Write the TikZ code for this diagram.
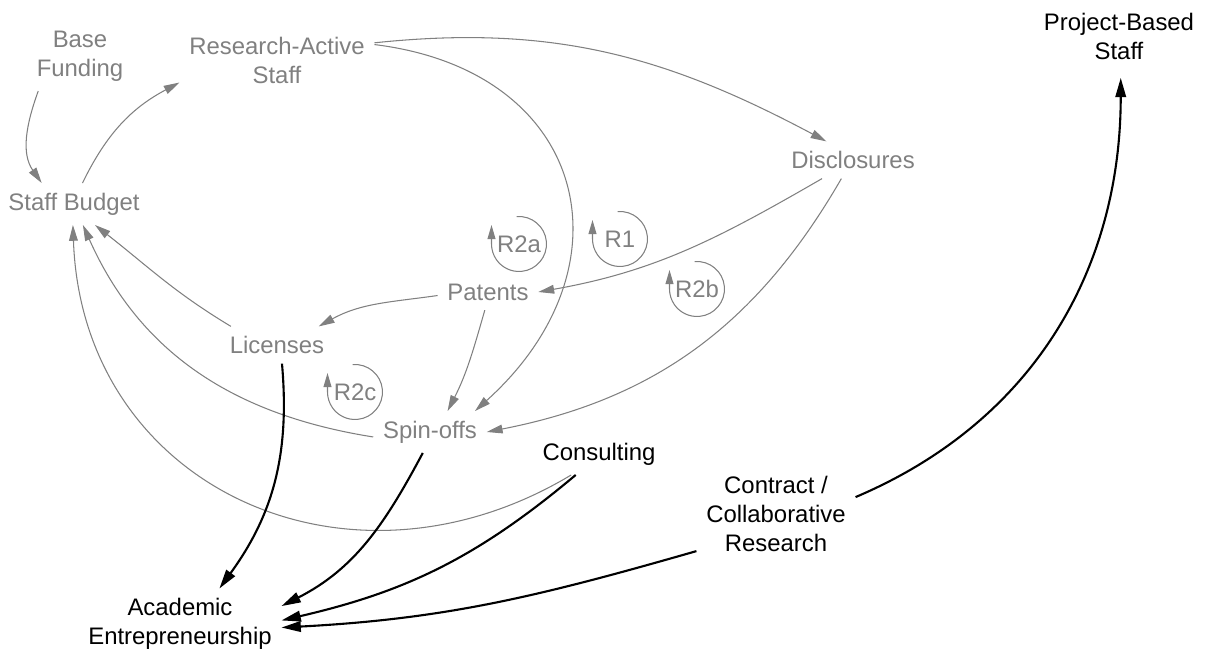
\documentclass[tikz,border=0pt]{standalone}
\usepackage{fontspec}
\setmainfont{Liberation Sans}
\usetikzlibrary{arrows.meta}
\definecolor{loopgrey}{RGB}{128,128,128}
\tikzset{
  black var/.style={
    align=center,
    inner sep=3pt,
    outer sep=2.6pt,
    font=\fontsize{13.6}{16.5}\selectfont,
  },
  grey var/.style={
    black var,
    text=loopgrey,
  },
  grey link/.style={
    draw=loopgrey,
    line width=0.6pt,
    -{Triangle[length=9pt,width=5pt]},
  },
  black link/.style={
    draw=black,
    line width=1.2pt,
    -{Triangle[length=11pt,width=6pt]},
  },
  loop arrow/.style={
    draw=loopgrey,
    line width=0.6pt,
    -{Triangle[length=8pt,width=4.5pt]},
  }
}

\begin{document}
\begin{tikzpicture}[x=0.02cm,y=-0.02cm]
\useasboundingbox (0,0) rectangle (1205,652);

\node[grey var] (fund) at (80,56) {Base\\Funding};
\node[grey var] (rstaff) at (277,60) {Research-Active\\Staff};
\node[grey var] (budget) at (74,204) {Staff Budget};
\node[grey var] (discl) at (853,160) {Disclosures};
\node[grey var] (patents) at (488,292) {Patents};
\node[grey var] (lic) at (277,345) {Licenses};
\node[grey var] (spin) at (430,432) {Spin-offs};
\node[black var] (consult) at (599,454) {Consulting};
\node[black var] (contract) at (776,514) {Contract /\\Collaborative\\Research};
\node[black var] (acad) at (180,624) {Academic\\Entrepreneurship};
\node[black var] (pstaff) at (1119,36) {Project-Based\\Staff};

% loop markers
\node[grey var] (r2a) at (519,244) {R2a};
\node[grey var] (r1) at (620,239) {R1};
\node[grey var] (r2b) at (697,289) {R2b};
\node[grey var] (r2c) at (355,392) {R2c};
\foreach \lp in {r2a,r1,r2b,r2c}
  \draw[loop arrow] (\lp.center) ++(95:0.55cm)
    arc[start angle=95, end angle=-180, radius=0.55cm] -- ++(0pt,0.38cm);

\draw[grey link] (fund.220) to[out=250,in=125] (budget.147);
\draw[grey link] (budget.68) to[out=64,in=208] (rstaff.193);
\draw[grey link] (rstaff.10) to[out=6,in=152] (discl.145);
\draw[grey link] (rstaff.9) to[out=-7,in=42,looseness=1.45] (spin.25);
\draw[grey link] (discl.211) to[out=210,in=10] (patents.east);
\draw[grey link] (discl.238) to[out=240,in=11] (spin.east);
\draw[grey link] (patents.184) to[out=188,in=29] (lic.24);
\draw[grey link] (patents.260) to[out=254,in=63] (spin.50);
\draw[grey link] (lic.158) to[out=149,in=-38] (budget.-45);
\draw[grey link] (spin.185) to[out=171,in=-66] (budget.-67);
\draw[grey link] (consult.217) to[out=211,in=-88,looseness=1.2] (budget.267);

\draw[black link] (lic.-75) to[out=-85,in=54] (acad.42);
\draw[black link] (spin.251) to[out=242,in=27] (acad.10);
\draw[black link] (consult.222) to[out=220,in=13] (acad.2);
\draw[black link] (contract.205) to[out=196,in=3] (acad.-2);
\draw[black link,shorten >=5pt] (contract.12) to[out=23,in=-90] (pstaff.-87);

\end{tikzpicture}
\end{document}
